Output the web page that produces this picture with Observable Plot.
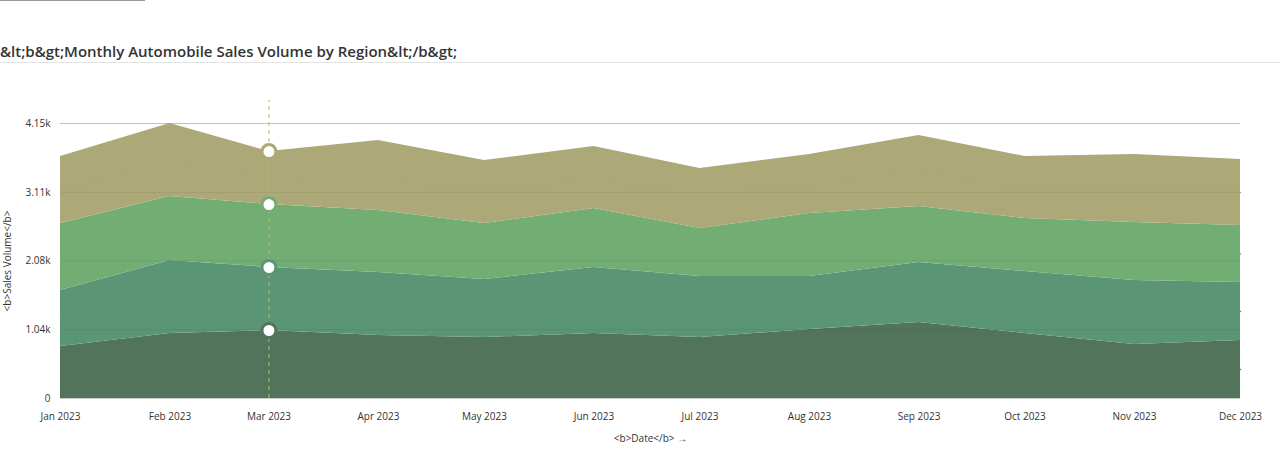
<!DOCTYPE html>
<html><head><meta charset="utf-8">
<script src="https://cdn.jsdelivr.net/npm/d3@7"></script>
<script src="https://cdn.jsdelivr.net/npm/@observablehq/plot@0.6"></script>
<style>
body{margin:0;font-family:"Open Sans",sans-serif;background:#fff}
#bar{width:145px;border-top:1px solid #999;height:0}
#title{height:62px;border-bottom:1px solid #e3e3e3;box-sizing:border-box;padding-top:40px;font-size:15px;font-weight:600;color:#333}
</style></head><body>
<div id="bar"></div>
<div id="title">&amp;lt;b&amp;gt;Monthly Automobile Sales Volume by Region&amp;lt;/b&amp;gt;</div>
<div id="chart"></div>
<script>
const months = ["Jan 2023","Feb 2023","Mar 2023","Apr 2023","May 2023","Jun 2023","Jul 2023","Aug 2023","Sep 2023","Oct 2023","Nov 2023","Dec 2023"];
const regions = ["Region A","Region B","Region C","Region D"];
const regionA = [785, 981, 1026, 951, 920, 981, 920, 1041, 1147, 981, 815, 875];
const regionB = [845, 1101, 951, 950, 876, 996, 921, 800, 905, 935, 966, 875];
const regionC = [1011, 966, 950, 936, 845, 890, 724, 951, 845, 800, 875, 861];
const regionD = [1011, 1102, 800, 1056, 950, 936, 906, 890, 1072, 936, 1026, 996];
const colors = ["#52745a", "#5a9575", "#72ae74", "#aca878"];
const yTicks = [0, 1040, 2080, 3110, 4150];
const yTickLabels = ["0", "1.04k", "2.08k", "3.11k", "4.15k"];
const highlight = 2;

const parse = d3.utcParse("%b %Y");
const series = [regionA, regionB, regionC, regionD];
const rows = [];
months.forEach((m, i) => series.forEach((s, k) => rows.push({date: parse(m), region: regions[k], value: s[i]})));

// cumulative tops for highlight dots
const tops = [];
let acc = 0;
series.forEach((s, k) => { acc += s[highlight]; tops.push({date: parse(months[highlight]), y: acc, c: colors[k]}); });

const chart = Plot.plot({
  width: 1280, height: 390,
  marginLeft: 60, marginRight: 40, marginTop: 60, marginBottom: 55,
  style: {fontFamily: "Open Sans", fontSize: "10px", color: "#333"},
  x: {type: "utc", domain: [parse(months[0]), parse(months[11])], ticks: months.map(parse), tickFormat: d3.utcFormat("%b %Y"), tickSize: 0, tickPadding: 14, label: "<b>Date</b>", labelAnchor: "center", labelOffset: 43},
  y: {domain: [0, 4150], ticks: yTicks, tickFormat: (d, i) => yTickLabels[i], tickSize: 0, tickPadding: 10, label: "<b>Sales Volume</b>", labelAnchor: "center", labelArrow: false},
  color: {domain: regions, range: colors},
  marks: [
    Plot.gridY(yTicks, {stroke: "#ccc", strokeOpacity: 1}),
    Plot.areaY(rows, Plot.stackY({x: "date", y: "value", fill: "region", fillOpacity: 1, order: regions})),
    Plot.lineY(rows, Plot.stackY({x: "date", y: "value", z: "region", stroke: "region", strokeWidth: 1.5, order: regions})),
    Plot.gridY(yTicks.slice(1), {stroke: "#000", strokeOpacity: 0.06}),
    Plot.ruleX([parse(months[highlight])], {y1: 0, y2: 4500, stroke: "#b8b870", strokeDasharray: "4,4"}),
    Plot.dot(tops, {x: "date", y: "y", r: 7, fill: "#fff", stroke: "c", strokeWidth: 3}),
    Plot.ruleY([0], {stroke: "#ccc"})
  ]
});
document.getElementById("chart").append(chart);
</script></body></html>
